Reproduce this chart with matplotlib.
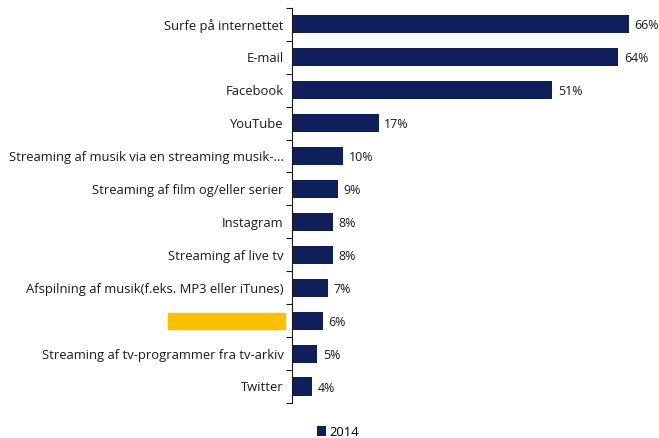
import matplotlib
matplotlib.use("Agg")
import matplotlib.pyplot as plt
from matplotlib.patches import Rectangle
import numpy as np

categories = [
    "Surfe på internettet",
    "E-mail",
    "Facebook",
    "YouTube",
    "Streaming af musik via en streaming musik-...",
    "Streaming af film og/eller serier",
    "Instagram",
    "Streaming af live tv",
    "Afspilning af musik(f.eks. MP3 eller iTunes)",
    "",
    "Streaming af tv-programmer fra tv-arkiv",
    "Twitter",
]
values = [66, 64, 51, 17, 10, 9, 8, 8, 7, 6, 5, 4]
series_name = "2014"

plt.rcParams['font.family'] = ['Open Sans', 'DejaVu Sans']
navy = "#0E1F5B"
txt = "#1A1A1A"

fig = plt.figure(figsize=(6.59, 4.38), dpi=100)
ax = fig.add_axes([0.443, 0.08, 0.542, 0.902])

y = np.arange(len(categories))
bars = ax.barh(y, values, height=0.55, color=navy, label=series_name)
ax.set_ylim(len(categories) - 0.5, -0.5)
ax.set_xlim(0, 70)

ax.set_yticks(y)
ax.set_yticklabels(categories, fontsize=9.4, color=txt)
ax.tick_params(axis='y', which='major', length=0, pad=6)
ax.set_yticks(np.arange(len(categories) + 1) - 0.5, minor=True)
ax.tick_params(axis='y', which='minor', length=4, color=txt, width=0.8)

for v, yy in zip(values, y):
    ax.text(v + 1.1, yy + 0.05, f"{v}%", va='center', ha='left', fontsize=8.9, color=txt)

ax.set_xticks([])
for s in ['top', 'right', 'bottom']:
    ax.spines[s].set_visible(False)
ax.spines['left'].set_color(txt)
ax.spines['left'].set_linewidth(0.8)

# redaction box over one label
fig.patches.append(Rectangle((168 / 659, 1 - 329 / 438), 117 / 659, 16 / 438,
                             transform=fig.transFigure, color="#FFC000", zorder=5))

fig.legend(handles=[bars], labels=[series_name], loc='center', bbox_to_anchor=(338 / 659, 1 - 432 / 438),
           frameon=False, fontsize=9.4, handlelength=0.7, handleheight=0.7, handletextpad=0.3)

fig.savefig("out.png", dpi=100)
